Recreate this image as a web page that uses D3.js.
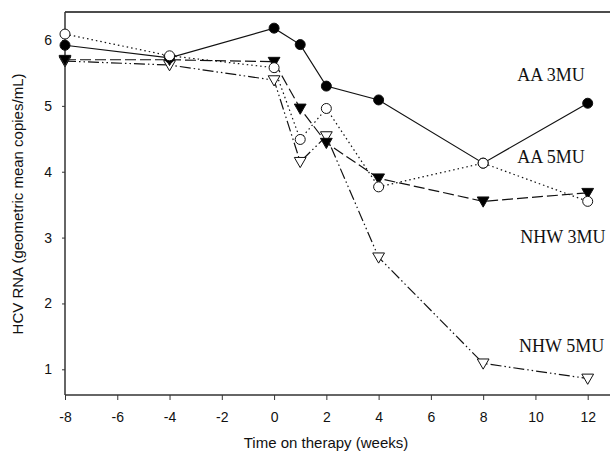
<!DOCTYPE html>
<html>
<head>
<meta charset="utf-8">
<script src="https://cdn.jsdelivr.net/npm/d3@7"></script>
<style>
  html, body { margin: 0; padding: 0; background: #fff; }
  svg { display: block; }
</style>
</head>
<body>
<svg id="chart" width="610" height="459"></svg>
<script>
// ---- data ----
const weeks = [-8, -4, 0, 1, 2, 4, 8, 12];
const aa3mu  = [5.92, 5.73, 6.18, 5.93, 5.30, 5.09, 4.13, 5.04];
const aa5mu  = [6.09, 5.76, 5.58, 4.49, 4.96, 3.77, 4.13, 3.55];
const nhw3mu = [5.70, 5.70, 5.67, 4.96, 4.44, 3.90, 3.55, 3.68];
const nhw5mu = [5.68, 5.62, 5.39, 4.15, 4.54, 2.70, 1.09, 0.86];
const seriesNames = ["AA 3MU", "AA 5MU", "NHW 3MU", "NHW 5MU"];
const xTicks = [-8, -6, -4, -2, 0, 2, 4, 6, 8, 10, 12];
const yTicks = [1, 2, 3, 4, 5, 6];
const labelPos = [[10.6, 5.37], [10.6, 4.13], [11.05, 2.92], [11.0, 1.27]];

const svg = d3.select("#chart");
const mLeft = 65, mRight = 610, mTop = 12, mBottom = 395;
const x = d3.scaleLinear().domain([-8, 12]).range([65, 587.7]);
const y = d3.scaleLinear().domain([1, 6]).range([369.3, 40]);

const axisColor = "#333";
const fmt = t => String(t);

// frame: top line
svg.append("line").attr("x1", mLeft).attr("x2", mRight).attr("y1", mTop).attr("y2", mTop)
  .attr("stroke", "#111").attr("stroke-width", 1.3);

// x axis
const gx = svg.append("g").attr("transform", `translate(0,${mBottom})`)
  .call(d3.axisBottom(x).tickValues(xTicks).tickSize(5).tickPadding(12).tickFormat(fmt));
gx.select(".domain").remove();
gx.selectAll("line").attr("stroke", axisColor).attr("stroke-width", 1);
gx.selectAll("text").attr("font-family", "Liberation Sans, Arial, sans-serif").attr("font-size", 14).attr("fill", "#111");
svg.append("line").attr("x1", mLeft).attr("x2", mRight).attr("y1", mBottom).attr("y2", mBottom)
  .attr("stroke", axisColor).attr("stroke-width", 1.5);

// y axis
const gy = svg.append("g").attr("transform", `translate(${mLeft},0)`)
  .call(d3.axisLeft(y).tickValues(yTicks).tickSize(3).tickPadding(10).tickFormat(fmt));
gy.select(".domain").remove();
gy.selectAll("line").attr("stroke", axisColor).attr("stroke-width", 1);
gy.selectAll("text").attr("font-family", "Liberation Sans, Arial, sans-serif").attr("font-size", 14).attr("fill", "#111");
svg.append("line").attr("x1", mLeft).attr("x2", mLeft).attr("y1", mTop).attr("y2", mBottom)
  .attr("stroke", axisColor).attr("stroke-width", 1.5);

// axis titles
svg.append("text").attr("x", 326).attr("y", 448).attr("text-anchor", "middle")
  .attr("font-family", "Liberation Sans, Arial, sans-serif").attr("font-size", 15).attr("fill", "#111")
  .text("Time on therapy (weeks)");
svg.append("text").attr("transform", "translate(23,204) rotate(-90)").attr("text-anchor", "middle")
  .attr("font-family", "Liberation Sans, Arial, sans-serif").attr("font-size", 15).attr("fill", "#111")
  .text("HCV RNA (geometric mean copies/mL)");

// series
const series = [
  { name: seriesNames[0], vals: aa3mu,  dash: null,               marker: "circle",   fill: "#000" },
  { name: seriesNames[1], vals: aa5mu,  dash: "1.5,3",            marker: "circle",   fill: "#fff" },
  { name: seriesNames[2], vals: nhw3mu, dash: "11,4",             marker: "triangle", fill: "#000" },
  { name: seriesNames[3], vals: nhw5mu, dash: "11,3,1.5,3,1.5,3", marker: "triangle", fill: "#fff" }
];

const line = d3.line().x(d => x(d[0])).y(d => y(d[1]));
const triSym = d3.symbol().type(d3.symbolTriangle).size(60);

series.forEach(s => {
  const pts = weeks.map((w, i) => [w, s.vals[i]]);
  svg.append("path").datum(pts).attr("d", line)
    .attr("fill", "none").attr("stroke", "#111").attr("stroke-width", 1.2)
    .attr("stroke-dasharray", s.dash);
});
[3, 2, 0, 1].forEach(k => {
  const s = series[k];
  const pts = weeks.map((w, i) => [w, s.vals[i]]);
  const g = svg.append("g");
  if (s.marker === "circle") {
    g.selectAll("circle").data(pts).join("circle")
      .attr("cx", d => x(d[0])).attr("cy", d => y(d[1])).attr("r", 5)
      .attr("fill", s.fill).attr("stroke", "#111").attr("stroke-width", 1);
  } else {
    g.selectAll("path").data(pts).join("path")
      .attr("d", triSym)
      .attr("transform", d => `translate(${x(d[0])},${y(d[1]) - 1}) rotate(180)`)
      .attr("fill", s.fill).attr("stroke", "#111").attr("stroke-width", 1);
  }
});

// labels
series.forEach((s, k) => {
  svg.append("text").attr("x", x(labelPos[k][0])).attr("y", y(labelPos[k][1]))
    .attr("text-anchor", "middle")
    .attr("font-family", "Liberation Serif, Times New Roman, serif").attr("font-size", 18)
    .attr("fill", "#111").text(s.name);
});
</script>
</body>
</html>
